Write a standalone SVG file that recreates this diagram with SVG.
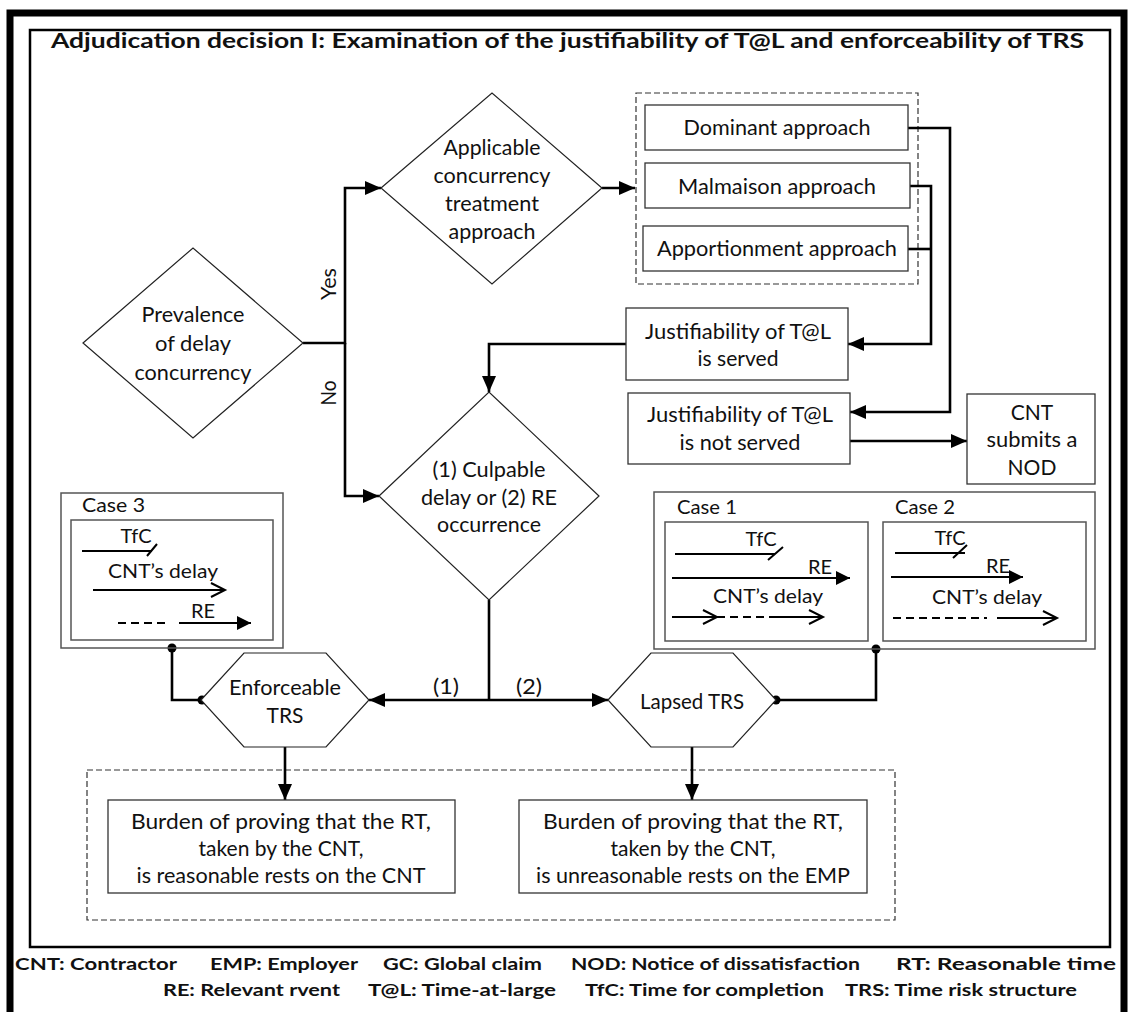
<svg xmlns="http://www.w3.org/2000/svg" width="1133" height="1012" viewBox="0 0 1133 1012">
  <style>
    text { font-family: Lato, "Open Sans", "Liberation Sans", sans-serif; fill: #111; }
    .t { font-size: 21px; text-anchor: middle; }
    .s { font-size: 20px; }
    .sm { font-size: 20px; text-anchor: middle; }
    .title { font-size: 20px; font-weight: bold; }
    .leg { font-size: 17.5px; font-weight: bold; }
    .shape { fill: #fff; stroke: #222; stroke-width: 1.2; }
    .box { fill: #fff; stroke: #333; stroke-width: 1.3; }
    .case { fill: none; stroke: #555; stroke-width: 1.5; }
    .dash { fill: none; stroke: #333; stroke-width: 1.2; stroke-dasharray: 6 3; }
    .wire { fill: none; stroke: #000; stroke-width: 2.6; }
    .ln { fill: none; stroke: #000; stroke-width: 2; }
    .dl { fill: none; stroke: #000; stroke-width: 2; stroke-dasharray: 8 5; }
  </style>
  <defs>
    <marker id="arr" markerUnits="userSpaceOnUse" markerWidth="18" markerHeight="16" refX="16" refY="8" orient="auto">
      <path d="M0,1 L16,8 L0,15 Z" fill="#000"/>
    </marker>
    <marker id="tri" markerUnits="userSpaceOnUse" markerWidth="16" markerHeight="16" refX="14" refY="7" orient="auto">
      <path d="M0,0 L14,7 L0,14 Z" fill="#000"/>
    </marker>
    <marker id="chev" markerUnits="userSpaceOnUse" markerWidth="18" markerHeight="18" refX="15" refY="8" orient="auto">
      <path d="M1,1 L15,8 L1,15" fill="none" stroke="#000" stroke-width="2"/>
    </marker>
  </defs>

  <!-- frames -->
  <rect x="10" y="13" width="1114" height="1012" fill="none" stroke="#000" stroke-width="7"/>
  <rect x="30" y="30" width="1080" height="917" fill="none" stroke="#000" stroke-width="2.5"/>

  <text class="title" x="51" y="48" textLength="1033" lengthAdjust="spacingAndGlyphs">Adjudication decision I: Examination of the justifiability of T@L and enforceability of TRS</text>

  <!-- dashed groupings -->
  <rect class="dash" x="636" y="93" width="282" height="191"/>
  <rect class="dash" x="87" y="770" width="808" height="150"/>

  <!-- connectors -->
  <g id="connectors">
    <path class="wire" d="M303,343 H345 V188 H381" marker-end="url(#arr)"/>
    <path class="wire" d="M345,343 V496 H379" marker-end="url(#arr)"/>
    <path class="wire" d="M602,188 H635" marker-end="url(#arr)"/>
    <path class="wire" d="M908,128 H950 V412 H850" marker-end="url(#arr)"/>
    <path class="wire" d="M910,186 H931 V344 H848" marker-end="url(#arr)"/>
    <path class="wire" d="M908,249 H931"/>
    <path class="wire" d="M626,344 H489 V392" marker-end="url(#arr)"/>
    <path class="wire" d="M850,441 H967" marker-end="url(#arr)"/>
    <path class="wire" d="M489,600 V700"/>
    <path class="wire" d="M489,700 H369" marker-end="url(#arr)"/>
    <path class="wire" d="M489,700 H608" marker-end="url(#arr)"/>
    <path class="wire" d="M285,747 V800" marker-end="url(#arr)"/>
    <path class="wire" d="M692,747 V800" marker-end="url(#arr)"/>
    <path class="wire" d="M172,648 V700 H202"/>
    <path class="wire" d="M776,700 H876 V649"/>
    <circle cx="172" cy="648" r="4.5" fill="#000"/>
    <circle cx="202" cy="700" r="4.5" fill="#000"/>
    <circle cx="776" cy="700" r="4.5" fill="#000"/>
    <circle cx="876" cy="649" r="4.5" fill="#000"/>
    <text class="t" x="446" y="694" textLength="26" lengthAdjust="spacingAndGlyphs">(1)</text>
    <text class="t" x="529" y="694" textLength="26" lengthAdjust="spacingAndGlyphs">(2)</text>
    <text class="t" transform="translate(336,284) rotate(-90)" x="0" y="0" textLength="32" lengthAdjust="spacingAndGlyphs">Yes</text>
    <text class="t" transform="translate(336,393) rotate(-90)" x="0" y="0" textLength="25" lengthAdjust="spacingAndGlyphs">No</text>
  </g>

  <g id="prevalence">
    <polygon class="shape" points="83,343 193,248 303,343 193,438"/>
    <text class="t" x="193" y="322" textLength="103" lengthAdjust="spacingAndGlyphs">Prevalence</text>
    <text class="t" x="193" y="351" textLength="76" lengthAdjust="spacingAndGlyphs">of delay</text>
    <text class="t" x="193" y="380" textLength="117" lengthAdjust="spacingAndGlyphs">concurrency</text>
  </g>

  <g id="applicable">
    <polygon class="shape" points="381,188 492,93 602,188 492,284"/>
    <text class="t" x="492" y="155" textLength="97" lengthAdjust="spacingAndGlyphs">Applicable</text>
    <text class="t" x="492" y="183" textLength="117" lengthAdjust="spacingAndGlyphs">concurrency</text>
    <text class="t" x="492" y="211" textLength="94" lengthAdjust="spacingAndGlyphs">treatment</text>
    <text class="t" x="492" y="239" textLength="87" lengthAdjust="spacingAndGlyphs">approach</text>
  </g>

  <g id="dominant">
    <rect class="box" x="645" y="105" width="263" height="45"/>
    <text class="t" x="777" y="135" textLength="187" lengthAdjust="spacingAndGlyphs">Dominant approach</text>
  </g>
  <g id="malmaison">
    <rect class="box" x="645" y="163" width="265" height="45"/>
    <text class="t" x="777" y="194" textLength="198" lengthAdjust="spacingAndGlyphs">Malmaison approach</text>
  </g>
  <g id="apportionment">
    <rect class="box" x="643" y="226" width="265" height="45"/>
    <text class="t" x="777" y="256" textLength="240" lengthAdjust="spacingAndGlyphs">Apportionment approach</text>
  </g>

  <g id="served">
    <rect class="box" x="626" y="308" width="222" height="72"/>
    <text class="t" x="738" y="339" textLength="186" lengthAdjust="spacingAndGlyphs">Justifiability of T@L</text>
    <text class="t" x="738" y="366" textLength="81" lengthAdjust="spacingAndGlyphs">is served</text>
  </g>
  <g id="not-served">
    <rect class="box" x="628" y="393" width="222" height="71"/>
    <text class="t" x="740" y="422" textLength="186" lengthAdjust="spacingAndGlyphs">Justifiability of T@L</text>
    <text class="t" x="740" y="450" textLength="121" lengthAdjust="spacingAndGlyphs">is not served</text>
  </g>
  <g id="nod">
    <rect class="box" x="967" y="394" width="128" height="90"/>
    <text class="t" x="1032" y="420">CNT</text>
    <text class="t" x="1032" y="447" textLength="91" lengthAdjust="spacingAndGlyphs">submits a</text>
    <text class="t" x="1032" y="475">NOD</text>
  </g>

  <g id="culpable">
    <polygon class="shape" points="379,496 489,392 599,496 489,600"/>
    <text class="t" x="489" y="477" textLength="113" lengthAdjust="spacingAndGlyphs">(1) Culpable</text>
    <text class="t" x="489" y="505" textLength="136" lengthAdjust="spacingAndGlyphs">delay or (2) RE</text>
    <text class="t" x="489" y="532" textLength="104" lengthAdjust="spacingAndGlyphs">occurrence</text>
  </g>

  <g id="case3">
    <rect class="case" x="61" y="493" width="222" height="155"/>
    <rect class="case" x="71" y="520" width="202" height="120"/>
    <text class="s" x="82" y="512" textLength="63" lengthAdjust="spacingAndGlyphs">Case 3</text>
    <text class="sm" x="136" y="543">TfC</text>
    <path class="ln" d="M82,551 H152 M147,556 L157,544"/>
    <text class="sm" x="163" y="578" textLength="110" lengthAdjust="spacingAndGlyphs">CNT’s delay</text>
    <path class="ln" d="M93,590 H225" marker-end="url(#chev)"/>
    <text class="sm" x="203" y="618">RE</text>
    <path class="dl" d="M118,623 H168"/>
    <path class="ln" d="M179,623 H251" marker-end="url(#tri)"/>
  </g>

  <g id="case12">
    <rect class="case" x="654" y="492" width="441" height="157"/>
    <rect class="case" x="665" y="522" width="203" height="119"/>
    <rect class="case" x="883" y="522" width="203" height="119"/>
    <text class="s" x="677" y="514" textLength="60" lengthAdjust="spacingAndGlyphs">Case 1</text>
    <text class="s" x="895" y="514" textLength="60" lengthAdjust="spacingAndGlyphs">Case 2</text>
    <!-- case 1 -->
    <text class="sm" x="761" y="546">TfC</text>
    <path class="ln" d="M675,554 H775 M768,560 L783,547"/>
    <text class="sm" x="820" y="574">RE</text>
    <path class="ln" d="M672,578 H850" marker-end="url(#tri)"/>
    <text class="sm" x="768" y="603" textLength="110" lengthAdjust="spacingAndGlyphs">CNT’s delay</text>
    <path class="ln" d="M672,617 H717" marker-end="url(#chev)"/>
    <path class="dl" d="M717,617 H773"/>
    <path class="ln" d="M773,617 H823" marker-end="url(#chev)"/>
    <!-- case 2 -->
    <text class="sm" x="950" y="545">TfC</text>
    <path class="ln" d="M895,553 H965 M953,558 L967,545"/>
    <text class="sm" x="998" y="573">RE</text>
    <path class="ln" d="M891,577 H1023" marker-end="url(#tri)"/>
    <text class="sm" x="987" y="604" textLength="110" lengthAdjust="spacingAndGlyphs">CNT’s delay</text>
    <path class="dl" d="M893,618 H987"/>
    <path class="ln" d="M997,618 H1057" marker-end="url(#chev)"/>
  </g>

  <g id="enforceable">
    <polygon class="shape" points="201,700 244,653 326,653 369,700 326,747 244,747"/>
    <text class="t" x="285" y="695" textLength="112" lengthAdjust="spacingAndGlyphs">Enforceable</text>
    <text class="t" x="285" y="723">TRS</text>
  </g>
  <g id="lapsed">
    <polygon class="shape" points="608,700 651,653 733,653 776,700 733,747 651,747"/>
    <text class="t" x="692" y="709" textLength="104" lengthAdjust="spacingAndGlyphs">Lapsed TRS</text>
  </g>

  <g id="burden-cnt">
    <rect class="box" x="108" y="800" width="347" height="93"/>
    <text class="t" x="281" y="829" textLength="300" lengthAdjust="spacingAndGlyphs">Burden of proving that the RT,</text>
    <text class="t" x="281" y="856" textLength="165" lengthAdjust="spacingAndGlyphs">taken by the CNT,</text>
    <text class="t" x="281" y="883" textLength="289" lengthAdjust="spacingAndGlyphs">is reasonable rests on the CNT</text>
  </g>
  <g id="burden-emp">
    <rect class="box" x="519" y="800" width="348" height="93"/>
    <text class="t" x="693" y="829" textLength="300" lengthAdjust="spacingAndGlyphs">Burden of proving that the RT,</text>
    <text class="t" x="693" y="856" textLength="165" lengthAdjust="spacingAndGlyphs">taken by the CNT,</text>
    <text class="t" x="693" y="883" textLength="314" lengthAdjust="spacingAndGlyphs">is unreasonable rests on the EMP</text>
  </g>

  <g id="legend">
    <text class="leg" x="15" y="970" textLength="162" lengthAdjust="spacingAndGlyphs">CNT: Contractor</text>
    <text class="leg" x="210" y="970" textLength="148" lengthAdjust="spacingAndGlyphs">EMP: Employer</text>
    <text class="leg" x="383" y="970" textLength="159" lengthAdjust="spacingAndGlyphs">GC: Global claim</text>
    <text class="leg" x="571" y="970" textLength="289" lengthAdjust="spacingAndGlyphs">NOD: Notice of dissatisfaction</text>
    <text class="leg" x="896" y="970" textLength="220" lengthAdjust="spacingAndGlyphs">RT: Reasonable time</text>
    <text class="leg" x="163" y="996" textLength="177" lengthAdjust="spacingAndGlyphs">RE: Relevant rvent</text>
    <text class="leg" x="368" y="996" textLength="188" lengthAdjust="spacingAndGlyphs">T@L: Time-at-large</text>
    <text class="leg" x="585" y="996" textLength="239" lengthAdjust="spacingAndGlyphs">TfC: Time for completion</text>
    <text class="leg" x="845" y="996" textLength="232" lengthAdjust="spacingAndGlyphs">TRS: Time risk structure</text>
  </g>
</svg>
